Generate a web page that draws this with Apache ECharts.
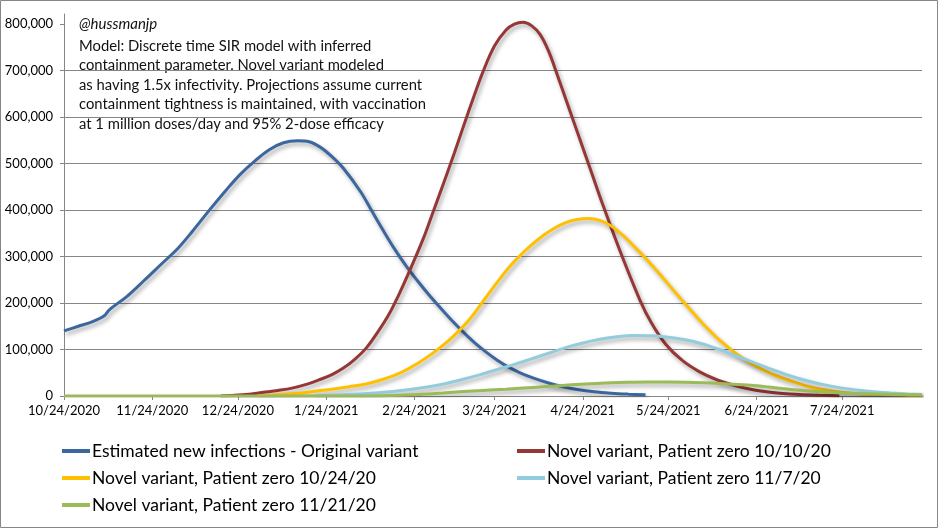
<!DOCTYPE html>
<html>
<head>
<meta charset="utf-8">
<script src="https://cdn.jsdelivr.net/npm/echarts@6/dist/echarts.min.js"></script>
<style>
html,body{margin:0;padding:0;background:#fff;}
#chart{width:938px;height:528px;}
</style>
</head>
<body>
<div id="chart"></div>
<script>
// ---- Data ----
// x positions are day offsets from 10/24/2020 (daily category axis)
const startDate = [2020, 9, 24];   // 10/24/2020
const dayCount = 302;              // through 8/21/2021
const tickLabels = ['10/24/2020','11/24/2020','12/24/2020','1/24/2021','2/24/2021','3/24/2021','4/24/2021','5/24/2021','6/24/2021','7/24/2021'];
const yTicks = [0,100000,200000,300000,400000,500000,600000,700000,800000];

const seriesNames = [
  'Estimated new infections - Original variant',
  'Novel variant, Patient zero 10/10/20',
  'Novel variant, Patient zero 10/24/20',
  'Novel variant, Patient zero 11/7/20',
  'Novel variant, Patient zero 11/21/20'
];

const blueDays   = [0,5,10,14,16,22,28,34,40,45,51,57,62,67,72,77,82,86,90,94,98,104,108,112,116,120,124,128,132,136,140,144,148,152,156,160,165,170,175,180,186,192,198,204];
const blueValues = [140000,150000,160000,172000,186000,214000,248000,283000,318000,354000,400000,444000,478000,506000,530000,545000,549000,547000,535000,515000,490000,440000,398000,356000,316000,280000,248000,218000,190000,163000,138000,115000,95000,77000,62000,50000,38000,28000,20000,14000,9000,6000,4000,2500];

const redDays   = [55,60,65,70,75,80,85,90,94,98,102,106,110,114,118,122,126,129,133,137,140,144,147,151,155,158,161,164,167,170,173,177,181,185,189,195,202,206,211,217,223,229,235,240,245,251,258,265,272];
const redValues = [0,1500,4000,8000,12000,17000,25000,36000,46000,60000,79000,103000,137000,176000,225000,280000,338000,388000,455000,524000,578000,648000,698000,753000,787000,800000,804000,797000,778000,742000,692000,622000,552000,482000,412000,313000,207000,158000,112000,76000,52000,35000,23000,15500,10000,6000,3000,1500,500];

const yellowDays   = [68,76,84,92,100,106,112,118,124,130,136,142,148,152,156,160,164,168,172,176,180,184,188,192,196,200,205,210,215,220,225,230,235,240,245,250,256,262,268,274,280,287,294,301];
const yellowValues = [0,3000,7000,13000,20000,26000,36000,50000,70000,95000,125000,163000,212000,245000,276000,302000,325000,345000,361000,373000,380000,382000,378000,366000,346000,322000,290000,255000,219000,184000,150000,120000,95000,74000,57000,43000,30000,19000,12000,7000,4500,3000,2000,1500];

const lightBlueDays   = [88,100,110,120,128,134,140,146,152,158,164,170,176,182,188,194,200,206,212,218,224,230,236,242,248,254,260,266,272,278,284,290,296,301];
const lightBlueValues = [0,3000,7000,13000,20000,27000,36000,46000,57000,68000,80000,92000,104000,114000,122000,127500,130000,129500,126500,121000,112000,100000,86000,72000,58000,45000,34000,25000,18000,13000,9000,6500,4500,3000];

const greenDays   = [0,105,115,122,128,133,140,147,155,160,166,172,178,185,192,198,205,212,218,224,230,236,242,247,252,258,264,270,276,282,288,295,301];
const greenValues = [0,0,1000,2500,4500,6500,9500,12000,14500,16500,19000,21500,24000,26500,28500,29500,30000,30000,29500,28500,27000,25000,22500,19500,16000,12500,9500,7500,6000,5000,4000,3000,2500];

const colors = ['#3B679E', '#953735', '#FFC000', '#93CDDD', '#9BBB59'];

// ---- Build category axis (daily dates) ----
const categories = [];
for (let i = 0; i < dayCount; i++) {
  const d = new Date(Date.UTC(startDate[0], startDate[1], startDate[2] + i));
  categories.push((d.getUTCMonth() + 1) + '/' + d.getUTCDate() + '/' + d.getUTCFullYear());
}
const tickSet = new Set(tickLabels);
const pair = (days, vals) => days.map((d, i) => [d, vals[i]]);
const allData = [
  pair(blueDays, blueValues),
  pair(redDays, redValues),
  pair(yellowDays, yellowValues),
  pair(lightBlueDays, lightBlueValues),
  pair(greenDays, greenValues)
];

const FONT = 'Lato';
// legend layout: [series index, left, top]
const legendSlots = [[0, 62, 441], [1, 517, 441], [2, 62, 468], [3, 517, 468], [4, 62, 495]];

const chart = echarts.init(document.getElementById('chart'), null, {renderer: 'canvas'});
const option = {
  backgroundColor: '#fff',
  animation: false,
  color: colors,
  grid: {left: 64, right: 16, top: 14, bottom: 132, containLabel: false},
  xAxis: {
    type: 'category',
    data: categories,
    boundaryGap: false,
    axisLine: {lineStyle: {color: '#868686', width: 1}},
    axisTick: {show: true, length: 4, interval: (i, v) => tickSet.has(v), lineStyle: {color: '#868686'}},
    axisLabel: {interval: (i, v) => tickSet.has(v), color: '#000', fontFamily: FONT, fontSize: 13, margin: 8},
    splitLine: {show: false}
  },
  yAxis: {
    type: 'value',
    min: 0,
    max: 822000,
    interval: 100000,
    axisLine: {show: true, lineStyle: {color: '#868686', width: 1}},
    axisTick: {show: true, length: 4, customValues: yTicks, lineStyle: {color: '#868686'}},
    axisLabel: {customValues: yTicks, color: '#000', fontFamily: FONT, fontSize: 13, margin: 11,
      formatter: v => v.toLocaleString('en-US')},
    splitLine: {show: true, showMaxLine: false, lineStyle: {color: '#868686', width: 1}}
  },
  legend: legendSlots.map(([si, left, top]) => ({
    data: [seriesNames[si]],
    orient: 'horizontal', left: left, top: top, padding: 0,
    icon: 'rect', itemWidth: 28, itemHeight: 4,
    textStyle: {color: '#000', fontFamily: FONT, fontSize: 17.5, lineHeight: 20, padding: [0, 0, 0, -3]}
  })),
  graphic: [
    {type: 'rect', shape: {x: 0.5, y: 0.5, width: 937, height: 527}, style: {fill: 'none', stroke: '#868686', lineWidth: 1}, silent: true, z: 100},
    {type: 'text', left: 79, top: 17, style: {text: '@hussmanjp', fontFamily: FONT, fontStyle: 'italic', fontSize: 15, fill: '#111'}},
    {type: 'text', left: 79, top: 36, style: {
      text: 'Model: Discrete time SIR model with inferred\ncontainment parameter. Novel variant modeled\nas having 1.5x infectivity. Projections assume current\ncontainment tightness is maintained, with vaccination\nat 1 million doses/day and 95% 2-dose efficacy',
      fontFamily: FONT, fontSize: 14.8, lineHeight: 19.5, fill: '#111'}}
  ],
  series: allData.map((data, i) => ({
    name: seriesNames[i],
    type: 'line',
    data: data,
    smooth: 0.35,
    showSymbol: false,
    symbol: 'none',
    lineStyle: {width: 3, color: colors[i], shadowColor: 'rgba(0,0,0,0.35)', shadowBlur: 4, shadowOffsetX: 2, shadowOffsetY: 3},
    itemStyle: {color: colors[i]},
    z: 2 + i
  }))
};
chart.setOption(option);
</script>
</body>
</html>
